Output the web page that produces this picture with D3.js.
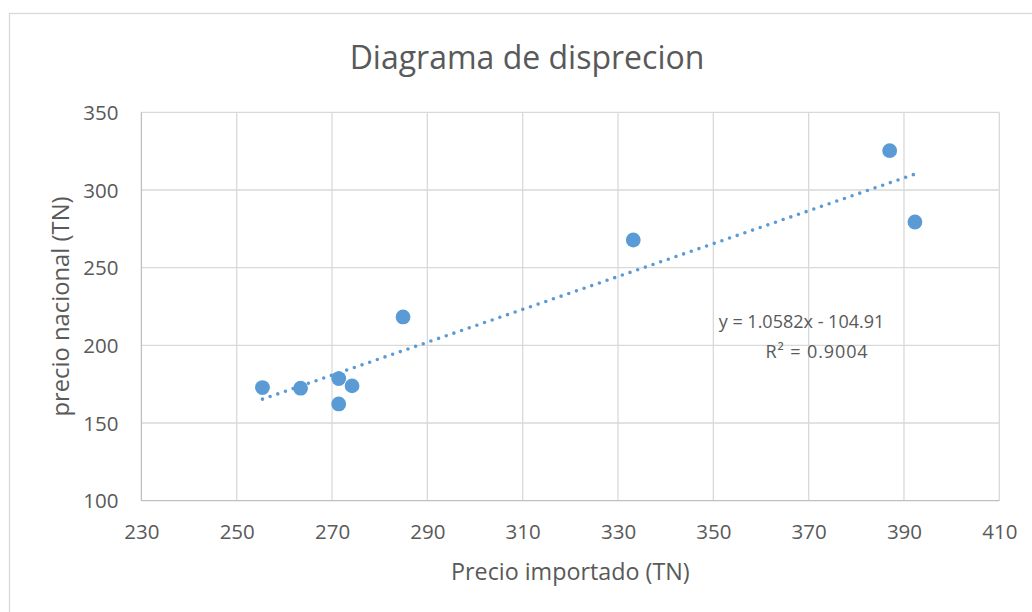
<!DOCTYPE html>
<html>
<head>
<meta charset="utf-8">
<script src="https://cdn.jsdelivr.net/npm/d3@7/dist/d3.min.js"></script>
<style>
  html, body { margin: 0; padding: 0; background: #fff; }
  svg { display: block; }
  text { font-family: "Open Sans", "Noto Sans", sans-serif; fill: #595959; }
</style>
</head>
<body>
<svg id="chart" width="1032" height="612"></svg>
<script>
// ---- data ----
const title = "Diagrama de disprecion";
const xAxisTitle = "Precio importado (TN)";
const yAxisTitle = "precio nacional (TN)";
const precioImportado = [255.4, 263.4, 271.4, 274.2, 271.4, 284.9, 333.2, 387.0, 392.3];
const precioNacional  = [172.8, 172.4, 178.6, 173.9, 162.3, 218.3, 267.8, 325.3, 279.4];
const xTicks = [230, 250, 270, 290, 310, 330, 350, 370, 390, 410];
const yTicks = [100, 150, 200, 250, 300, 350];
const trendSlope = 1.0582;
const trendIntercept = -104.91;
const trendLabels = ["y = 1.0582x - 104.91", "R² = 0.9004"];

// ---- layout ----
const svg = d3.select("#chart");
const plot = { left: 141.4, right: 999.3, top: 112.3, bottom: 500.7 };
const x = d3.scaleLinear().domain([230, 410]).range([plot.left, plot.right]);
const y = d3.scaleLinear().domain([100, 350]).range([plot.bottom, plot.top]);

// chart border
svg.append("rect").attr("x", 9.5).attr("y", 13.5).attr("width", 1040).attr("height", 620)
  .attr("fill", "#fff").attr("stroke", "#D9D9D9").attr("stroke-width", 1.3);

// gridlines
svg.append("g").selectAll("line").data(xTicks.slice(1)).join("line")
  .attr("x1", d => x(d)).attr("x2", d => x(d))
  .attr("y1", plot.top).attr("y2", plot.bottom)
  .attr("stroke", "#D9D9D9").attr("stroke-width", 1.3);
svg.append("g").selectAll("line").data(yTicks.slice(1)).join("line")
  .attr("y1", d => y(d)).attr("y2", d => y(d))
  .attr("x1", plot.left).attr("x2", plot.right)
  .attr("stroke", "#D9D9D9").attr("stroke-width", 1.3);

// axes lines
svg.append("line").attr("x1", plot.left).attr("x2", plot.right)
  .attr("y1", plot.bottom).attr("y2", plot.bottom)
  .attr("stroke", "#BFBFBF").attr("stroke-width", 1.3);
svg.append("line").attr("x1", plot.left).attr("x2", plot.left)
  .attr("y1", plot.top).attr("y2", plot.bottom)
  .attr("stroke", "#BFBFBF").attr("stroke-width", 1.3);

// tick labels
const xAxis = d3.axisBottom(x).tickValues(xTicks).tickSize(0).tickPadding(0);
const gx = svg.append("g").attr("transform", `translate(0,${plot.bottom})`).call(xAxis);
gx.select(".domain").remove();
gx.selectAll("text").attr("dy", null).attr("y", 38)
  .style("font-family", '"Open Sans", sans-serif').style("font-size", "20.5px").attr("fill", "#595959");

const yAxis = d3.axisLeft(y).tickValues(yTicks).tickSize(0).tickPadding(0);
const gy = svg.append("g").attr("transform", `translate(${plot.left},0)`).call(yAxis);
gy.select(".domain").remove();
gy.selectAll("text").attr("x", -23).attr("dy", "0.35em")
  .style("font-family", '"Open Sans", sans-serif').style("font-size", "20.5px").attr("fill", "#595959");

// trendline
const xMin = d3.min(precioImportado), xMax = d3.max(precioImportado);
svg.append("line")
  .attr("x1", x(xMin)).attr("y1", y(trendSlope * xMin + trendIntercept))
  .attr("x2", x(xMax)).attr("y2", y(trendSlope * xMax + trendIntercept))
  .attr("stroke", "#5B9BD5").attr("stroke-width", 3.6)
  .attr("stroke-linecap", "round").attr("stroke-dasharray", "0 8.1");

// points
svg.append("g").selectAll("circle").data(precioImportado.map((v, i) => [v, precioNacional[i]])).join("circle")
  .attr("cx", d => x(d[0])).attr("cy", d => y(d[1])).attr("r", 7.4)
  .attr("fill", "#5B9BD5");

// trend label
svg.append("text").attr("x", 801.5).attr("y", 328).attr("text-anchor", "middle")
  .style("font-size", "18px").text(trendLabels[0]);
svg.append("text").attr("x", 817).attr("y", 358).attr("text-anchor", "middle")
  .style("font-size", "18px").style("letter-spacing", "0.9px").text(trendLabels[1]);

// titles
svg.append("text").attr("x", 527).attr("y", 69).attr("text-anchor", "middle")
  .style("font-size", "32px").text(title);
svg.append("text").attr("x", (plot.left + plot.right) / 2).attr("y", 580).attr("text-anchor", "middle")
  .style("font-size", "23.3px").text(xAxisTitle);
svg.append("text")
  .attr("transform", `translate(69,${(plot.top + plot.bottom) / 2}) rotate(-90)`)
  .attr("text-anchor", "middle").style("font-size", "23.8px").text(yAxisTitle);
</script>
</body>
</html>
